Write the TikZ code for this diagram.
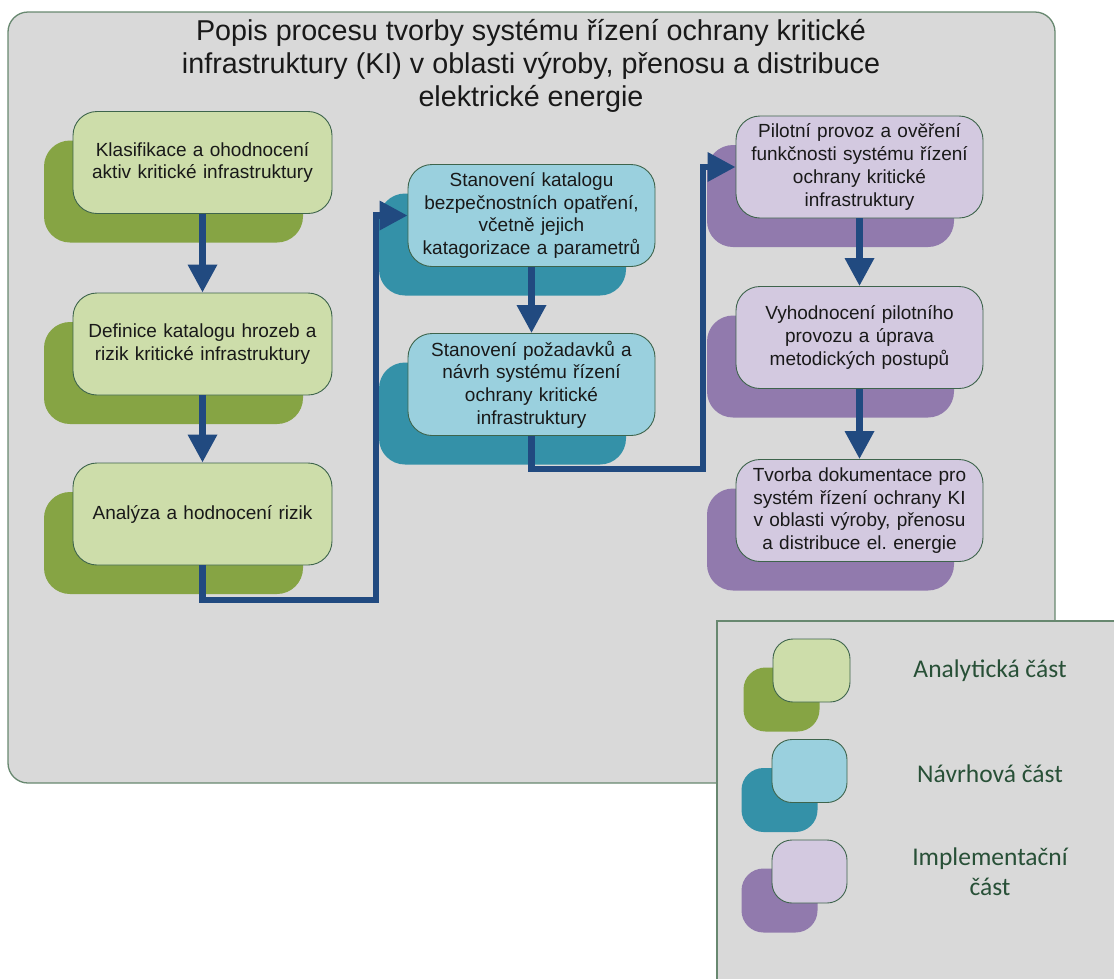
\documentclass[tikz,border=0pt]{standalone}
\usepackage{fontspec}
\setmainfont{Liberation Sans}
\newfontfamily\legendfont{Carlito}
\usetikzlibrary{arrows.meta,positioning}
\definecolor{panelfill}{RGB}{217,217,217}
\definecolor{panelline}{RGB}{104,136,112}
\definecolor{boxline}{RGB}{62,100,76}
\definecolor{anafront}{RGB}{205,221,170}
\definecolor{anaback}{RGB}{134,164,68}
\definecolor{navfront}{RGB}{154,208,222}
\definecolor{navback}{RGB}{52,145,168}
\definecolor{impfront}{RGB}{211,201,224}
\definecolor{impback}{RGB}{145,122,173}
\definecolor{flowblue}{RGB}{33,74,128}
\definecolor{legendtext}{RGB}{40,80,55}
\tikzset{
  panel/.style={draw=panelline,fill=panelfill,line width=1.3pt},
  krok/.style={draw=boxline,line width=0.9pt,fill=#1,rounded corners=24pt,minimum width=247pt,minimum height=102pt,
    text width=240pt,inner sep=0pt,align=center,text=black!90,font=\fontsize{19}{22.7}\selectfont},
  stin/.style={fill=#1,rounded corners=26pt,minimum width=247pt,minimum height=102pt,inner sep=0pt,xshift=-29pt,yshift=-29pt},
  legkrok/.style={draw=boxline,line width=0.9pt,fill=#1,rounded corners=20pt,minimum width=75pt,minimum height=63pt,inner sep=0pt},
  legstin/.style={fill=#1,rounded corners=22pt,minimum width=76pt,minimum height=64pt,inner sep=0pt,xshift=-30pt,yshift=-29pt},
  legtext/.style={align=center,text=legendtext,font=\legendfont\fontsize{25.5}{30}\selectfont},
  tok/.style={draw=flowblue,line width=6.5pt,-{Triangle[width=28pt,length=28pt]}}
}

\begin{document}
\begin{tikzpicture}[x=1pt,y=-1pt]
  \useasboundingbox (0,0) rectangle (1114,978);
  % main panel
  \draw[panel,rounded corners=20pt] (8,12) rectangle (1055,783);
  \node[align=center,font=\fontsize{28.7}{33}\selectfont,text=black!90] (titul) at (531,66)
    {Popis procesu tvorby systému řízení ochrany kritické\\
     infrastruktury (KI) v oblasti výroby, přenosu a distribuce\\
     elektrické energie};

  % analyticka cast
  \node[stin=anaback,minimum width=259pt] at (202.5,162.5) {};
  \node[krok=anafront,minimum width=259pt] (klas) at (202.5,162.5) {Klasifikace a ohodnocení\\aktiv kritické infrastruktury};
  \node[stin=anaback,minimum width=259pt] at (202.5,344) {};
  \node[krok=anafront,minimum width=259pt] (defi) at (202.5,344) {Definice katalogu hrozeb a\\rizik kritické infrastruktury};
  \node[stin=anaback,minimum width=259pt] at (202.5,514) {};
  \node[krok=anafront,minimum width=259pt] (anal) at (202.5,514) {Analýza a hodnocení rizik};

  % navrhova cast
  \node[stin=navback] at (531.5,215.5) {};
  \node[krok=navfront] (kata) at (531.5,215.5) {Stanovení katalogu\\bezpečnostních opatření,\\včetně jejich\\katagorizace a parametrů};
  \node[stin=navback] at (531.5,384.5) {};
  \node[krok=navfront] (pozad) at (531.5,384.5) {Stanovení požadavků a\\návrh systému řízení\\ochrany kritické\\infrastruktury};

  % implementacni cast
  \node[stin=impback] at (859.5,167) {};
  \node[krok=impfront] (pilot) at (859.5,167) {Pilotní provoz a ověření\\funkčnosti systému řízení\\ochrany kritické\\infrastruktury};
  \node[stin=impback] at (859.5,337.5) {};
  \node[krok=impfront] (vyhod) at (859.5,337.5) {Vyhodnocení pilotního\\provozu a úprava\\metodických postupů};
  \node[stin=impback] at (859.5,510.5) {};
  \node[krok=impfront] (dokum) at (859.5,510.5) {Tvorba dokumentace pro\\systém řízení ochrany KI\\v oblasti výroby, přenosu\\a distribuce el.\ energie};

  % connectors
  \coordinate (ohyb1) at (376,600);
  \coordinate (ohyb2) at (703,469);
  \draw[tok] (klas) -- (defi);
  \draw[tok] (defi) -- (anal);
  \draw[tok] (anal.south) |- (ohyb1) |- (kata.west);
  \draw[tok] (kata) -- (pozad);
  \draw[tok] (pozad.south) |- (ohyb2) |- (pilot.west);
  \draw[tok] (pilot) -- (vyhod);
  \draw[tok] (vyhod) -- (dokum);

  % legend
  \draw[panel] (717,621) rectangle (1140,1000);
  \node[legstin=anaback] at (811.5,670.5) {};
  \node[legkrok=anafront,minimum width=77pt] (legana) at (811.5,670.5) {};
  \node[legstin=navback] at (809.5,771) {};
  \node[legkrok=navfront] (legnav) at (809.5,771) {};
  \node[legstin=impback] at (809.5,871.5) {};
  \node[legkrok=impfront] (legimp) at (809.5,871.5) {};
  \node[legtext] at (990,671) {Analytická část};
  \node[legtext] at (990,774) {Návrhová část};
  \node[legtext] at (990,872) {Implementační\\část};
\end{tikzpicture}
\end{document}
